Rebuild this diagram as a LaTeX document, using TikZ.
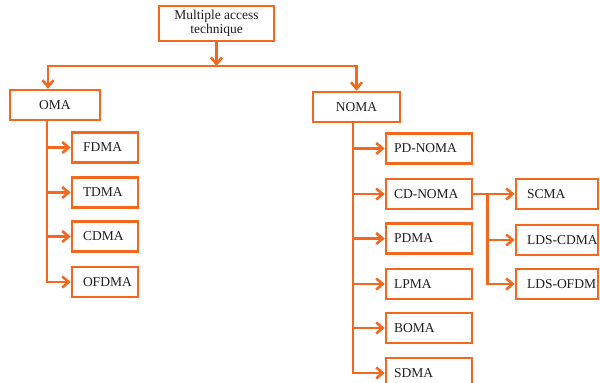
\documentclass[tikz,border=0pt]{standalone}
\usepackage{fontspec}
\setmainfont{Liberation Serif}
\usepackage{xcolor}
\usetikzlibrary{arrows.meta}

\definecolor{laranja}{RGB}{244,103,30}
\definecolor{texto}{RGB}{30,30,30}

\newcommand{\txtcaixa}[2]{\makebox[#1][l]{#2}}

\tikzset{
  caixa/.style={draw=laranja, line width=2.6pt, fill=white, minimum height=30pt,
    inner ysep=0pt, text=texto, font=\fontsize{13.5}{14}\selectfont},
  seta/.style={draw=laranja, line width=2.6pt,
    -{Straight Barb[length=6.5pt,width=11pt]}},
  linha/.style={draw=laranja, line width=2.6pt},
}

\begin{document}
\begin{tikzpicture}[x=1pt, y=-1pt]
            \useasboundingbox (0,0) rectangle (600,383);

            % raiz e os dois grupos
            \node[caixa, minimum width=115pt, minimum height=35pt, align=center]
                (mat) at (216.5,23.5) {Multiple access\\technique};
            \node[caixa, minimum width=90pt] (oma) at (55,105) {OMA};
            \node[caixa, minimum width=87pt] (noma) at (356.5,107) {NOMA};

            % folhas de OMA
            \foreach \n/\t/\y in {fdma/FDMA/147.5, tdma/TDMA/192.5,
                                  cdma/CDMA/236.5, ofdma/OFDMA/282}
                \node[caixa, inner xsep=11pt] (\n) at (105,\y) {\txtcaixa{44pt}{\t}};

            % folhas de NOMA
            \foreach \n/\t/\y in {pdnoma/PD-NOMA/148.5, cdnoma/CD-NOMA/194,
                                  pdma/PDMA/238.5, lpma/LPMA/284,
                                  boma/BOMA/328, sdma/SDMA/373}
                \node[caixa, inner xsep=8pt] (\n) at (429,\y) {\txtcaixa{70pt}{\t}};

            % folhas de CD-NOMA
            \foreach \n/\t/\y in {scma/SCMA/194, ldscdma/LDS-CDMA/240,
                                  ldsofdm/LDS-OFDM/284}
                \node[caixa, inner xsep=11pt] (\n) at (557,\y) {\txtcaixa{60pt}{\t}};

            % ligações do topo
            \coordinate (barra) at (mat.south |- 0,66);
            \draw[seta] (mat) -- (barra);
            \draw[seta] (barra) -| ([xshift=-7pt]oma.north);
            \draw[seta] (barra) -| (noma.north);

            % troncos verticais
            \coordinate (toma) at ([xshift=-8pt]oma.south);
            \coordinate (tnoma) at ([xshift=-3.5pt]noma.south);
            \coordinate (tcd) at ([xshift=14pt]cdnoma.east);
            \draw[linha] (cdnoma) -- (tcd);

            \foreach \n in {fdma,tdma,cdma,ofdma}
                \draw[seta] (toma) |- (\n.west);
            \foreach \n in {pdnoma,cdnoma,pdma,lpma,boma,sdma}
                \draw[seta] (tnoma) |- (\n.west);
            \foreach \n in {scma,ldscdma,ldsofdm}
                \draw[seta] (tcd) |- (\n.west);
        \end{tikzpicture}
\end{document}
